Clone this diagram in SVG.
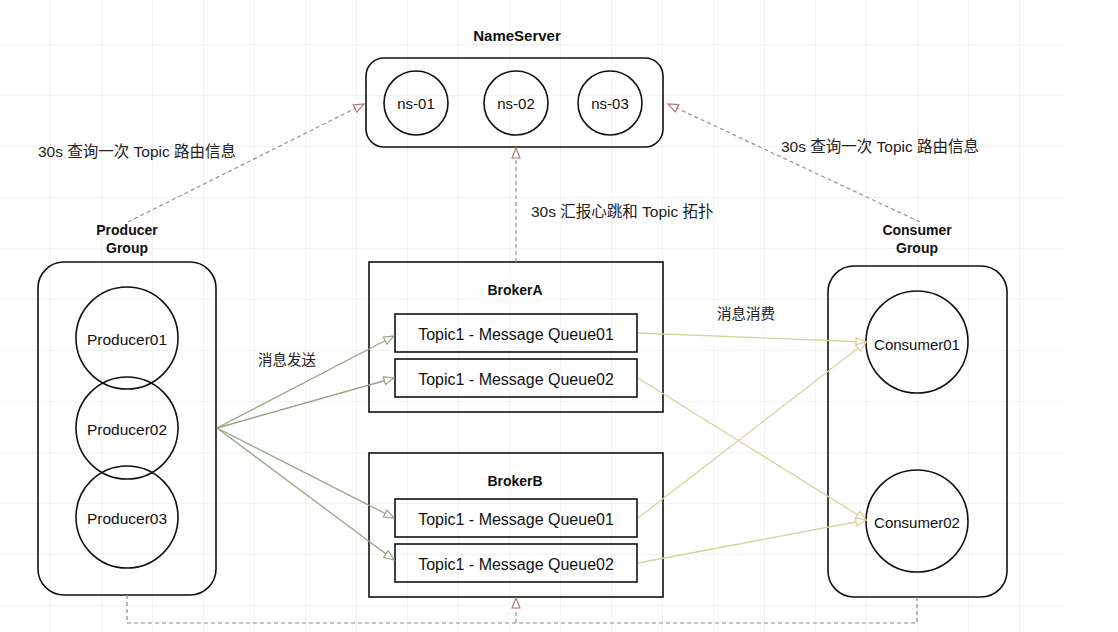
<svg xmlns="http://www.w3.org/2000/svg" width="1118" height="632" viewBox="0 0 1118 632">
<style>
  .box{fill:none;stroke:#111;stroke-width:1.6}
  .circ{fill:none;stroke:#111;stroke-width:1.6}
  .t{font-family:"Liberation Sans",Arial,sans-serif;font-size:15px;fill:#111;text-anchor:middle;dominant-baseline:central}
  .q{font-size:16px}
  .title{font-family:"Liberation Sans",Arial,sans-serif;font-size:14px;font-weight:bold;fill:#111;text-anchor:middle;dominant-baseline:central}
  .lbl{font-family:"Liberation Sans","Noto Sans CJK SC",sans-serif;font-size:15.5px;fill:#222;dominant-baseline:central}
  .cjk{font-size:14.5px}
  .green{fill:none;stroke:#93a886;stroke-width:1.3}
  .yellow{fill:none;stroke:#d8d29c;stroke-width:1.3}
  .dash{fill:none;stroke:#a88a8a;stroke-width:1.2;stroke-dasharray:4 3}
  .dashg{fill:none;stroke:#8a8a8a;stroke-width:1.2;stroke-dasharray:4 3}
</style>
<defs>
  <pattern id="grid" x="50" y="44" width="51" height="51" patternUnits="userSpaceOnUse">
    <path d="M0,0 V51 M0,0 H51" fill="none" stroke="#e8e8e8" stroke-width="1"/>
  </pattern>
  <marker id="mg" viewBox="0 0 12 10" refX="11" refY="5" markerWidth="12" markerHeight="10" markerUnits="userSpaceOnUse" orient="auto">
    <path d="M1,1 L11,5 L1,9 z" fill="#fff" stroke="#93a886" stroke-width="1.2"/>
  </marker>
  <marker id="my" viewBox="0 0 12 10" refX="11" refY="5" markerWidth="12" markerHeight="10" markerUnits="userSpaceOnUse" orient="auto">
    <path d="M1,1 L11,5 L1,9 z" fill="#fff" stroke="#d8d29c" stroke-width="1.2"/>
  </marker>
  <marker id="mp" viewBox="0 0 12 10" refX="11" refY="5" markerWidth="12" markerHeight="10" markerUnits="userSpaceOnUse" orient="auto">
    <path d="M1,1 L11,5 L1,9 z" fill="#fff" stroke="#b07a7a" stroke-width="1.2"/>
  </marker>
</defs>
<rect x="0" y="0" width="1118" height="632" fill="#fff"/>
<rect x="0" y="0" width="1064" height="632" fill="url(#grid)"/>

<g id="nameserver">
  <text class="title" x="517" y="35" style="font-size:15px">NameServer</text>
  <rect class="box" x="366" y="58" width="297" height="89" rx="18"/>
  <circle class="circ" cx="416" cy="103" r="32"/>
  <text class="t" x="416" y="103">ns-01</text>
  <circle class="circ" cx="516" cy="103" r="32"/>
  <text class="t" x="516" y="103">ns-02</text>
  <circle class="circ" cx="610" cy="103" r="32"/>
  <text class="t" x="610" y="103">ns-03</text>
</g>

<g id="producer-group">
  <text class="title" x="127" y="230">Producer</text>
  <text class="title" x="127" y="248">Group</text>
  <rect class="box" x="38" y="262" width="178" height="333" rx="26"/>
  <circle class="circ" cx="127" cy="338" r="51"/>
  <circle class="circ" cx="127" cy="428" r="51"/>
  <circle class="circ" cx="127" cy="517" r="51"/>
  <text class="t" x="127" y="339" style="font-size:15.5px">Producer01</text>
  <text class="t" x="127" y="429" style="font-size:15.5px">Producer02</text>
  <text class="t" x="127" y="518" style="font-size:15.5px">Producer03</text>
</g>

<g id="broker-a">
  <rect class="box" x="369" y="262" width="294" height="150"/>
  <text class="title" x="515" y="290">BrokerA</text>
  <rect class="box" x="395" y="314" width="242" height="38"/>
  <text class="t q" x="516" y="334">Topic1 - Message Queue01</text>
  <rect class="box" x="395" y="359" width="242" height="38"/>
  <text class="t q" x="516" y="379">Topic1 - Message Queue02</text>
</g>

<g id="broker-b">
  <rect class="box" x="369" y="453" width="294" height="144"/>
  <text class="title" x="515" y="481">BrokerB</text>
  <rect class="box" x="395" y="499" width="242" height="38"/>
  <text class="t q" x="516" y="519">Topic1 - Message Queue01</text>
  <rect class="box" x="395" y="544" width="242" height="38"/>
  <text class="t q" x="516" y="564">Topic1 - Message Queue02</text>
</g>

<g id="consumer-group">
  <text class="title" x="917" y="230">Consumer</text>
  <text class="title" x="917" y="248">Group</text>
  <rect class="box" x="828" y="266" width="179" height="331" rx="26"/>
  <circle class="circ" cx="917" cy="342" r="51"/>
  <text class="t" x="917" y="344">Consumer01</text>
  <circle class="circ" cx="917" cy="521" r="51"/>
  <text class="t" x="917" y="522">Consumer02</text>
</g>

<g id="connectors">
  <path class="dash" d="M128,222 L364,104" marker-end="url(#mp)"/>
  <path class="dash" d="M920,222 L668,104" marker-end="url(#mp)"/>
  <path class="dash" d="M516,262 L516,148" marker-end="url(#mp)"/>
  <path class="dashg" d="M127,595 V623 H917 V597"/>
  <path class="dash" d="M516,623 L516,598" marker-end="url(#mp)"/>
  <path class="green" d="M217,428 L394,336" marker-end="url(#mg)"/>
  <path class="green" d="M217,428 L394,378" marker-end="url(#mg)"/>
  <path class="green" d="M217,428 L394,518" marker-end="url(#mg)"/>
  <path class="green" d="M217,428 L394,560" marker-end="url(#mg)"/>
  <path class="yellow" d="M638,333 L866,342" marker-end="url(#my)"/>
  <path class="yellow" d="M638,378 L866,520" marker-end="url(#my)"/>
  <path class="yellow" d="M638,518 L866,342" marker-end="url(#my)"/>
  <path class="yellow" d="M638,563 L866,520" marker-end="url(#my)"/>
  <text class="lbl" x="38" y="151">30s 查询一次 Topic 路由信息</text>
  <text class="lbl" x="781" y="146">30s 查询一次 Topic 路由信息</text>
  <text class="lbl" x="531" y="211">30s 汇报心跳和 Topic 拓扑</text>
  <text class="lbl cjk" x="258" y="360">消息发送</text>
  <text class="lbl cjk" x="717" y="314">消息消费</text>
</g>
</svg>
